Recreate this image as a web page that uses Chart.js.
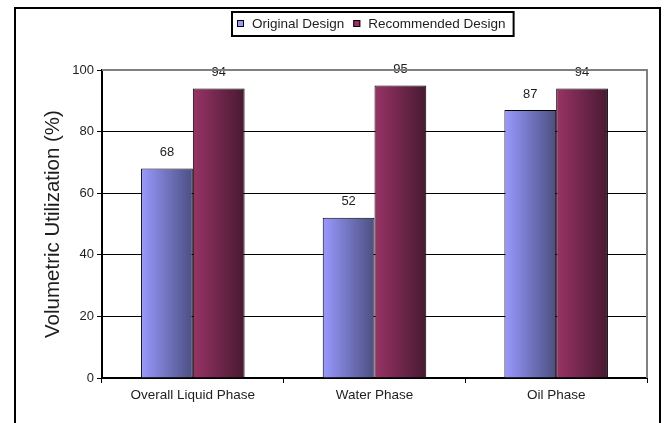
<!DOCTYPE html>
<html>
<head>
<meta charset="utf-8">
<script src="https://cdn.jsdelivr.net/npm/chart.js@4/dist/chart.umd.min.js"></script>
<style>
  html, body { margin: 0; padding: 0; background: #fff; }
  #wrap { width: 668px; height: 423px; position: relative; }
</style>
</head>
<body>
<div id="wrap"><canvas id="chart" width="668" height="423"></canvas></div>
<script>
// Volumetric utilization per phase, original vs recommended design
const categories = ['Overall Liquid Phase', 'Water Phase', 'Oil Phase'];
const seriesNames = ['Original Design', 'Recommended Design'];
const originalValues = [68, 52, 87];
const recommendedValues = [94, 95, 94];
const yTicks = [0, 20, 40, 60, 80, 100];

const FONT = '"Liberation Sans", Arial, sans-serif';
const TEXT = '#1e1e1e';

// light-to-dark horizontal shading for each series
const shades = [
  { light: '#9999ff', dark: '#4b4f80', flat: '#9999ff' },
  { light: '#993366', dark: '#471a31', flat: '#993366' }
];

// Shade every bar from left (light) to right (dark)
const barShading = {
  id: 'barShading',
  beforeDatasetsDraw(chart) {
    const ctx = chart.ctx;
    chart.data.datasets.forEach((ds, i) => {
      const meta = chart.getDatasetMeta(i);
      meta.data.forEach(el => {
        const x0 = el.x - el.width / 2, x1 = el.x + el.width / 2;
        const g = ctx.createLinearGradient(x0, 0, x1, 0);
        g.addColorStop(0, shades[i].light);
        g.addColorStop(1, shades[i].dark);
        el.options = Object.assign({}, el.options, { backgroundColor: g });
      });
    });
  }
};

// Value labels above bars, frame lines, legend box and outer border
const decorations = {
  id: 'decorations',
  afterDatasetsDraw(chart) {
    const ctx = chart.ctx;
    ctx.save();
    ctx.font = '13px ' + FONT;
    ctx.fillStyle = TEXT;
    ctx.textAlign = 'center';
    ctx.textBaseline = 'middle';
    chart.data.datasets.forEach((ds, i) => {
      chart.getDatasetMeta(i).data.forEach((el, j) => {
        ctx.fillText(String(ds.data[j]), el.x, el.y - 16);
      });
    });
    ctx.restore();
  },
  afterDraw(chart) {
    const ctx = chart.ctx;
    const a = chart.chartArea;
    ctx.save();
    // gray top and right edges of the plot frame
    ctx.strokeStyle = '#808080';
    ctx.lineWidth = 2;
    ctx.beginPath();
    ctx.moveTo(a.left, a.top);
    ctx.lineTo(a.right, a.top);
    ctx.lineTo(a.right, a.bottom);
    ctx.stroke();

    // legend
    ctx.font = '13.5px ' + FONT;
    const w = seriesNames.map(s => ctx.measureText(s).width);
    const marker = 7, gapText = 8, gapItem = 9, padL = 5, padR = 8;
    const total = padL + marker + gapText + w[0] + gapItem + marker + gapText + w[1] + padR;
    const cx = (a.left + a.right) / 2 - 2;
    const bx = Math.round(cx - total / 2), by = 12, bh = 24;
    ctx.strokeStyle = '#000';
    ctx.lineWidth = 2;
    ctx.strokeRect(bx, by, total, bh);
    let x = bx + padL;
    ctx.textBaseline = 'middle';
    ctx.textAlign = 'left';
    seriesNames.forEach((name, i) => {
      ctx.fillStyle = shades[i].flat;
      ctx.fillRect(x, by + 8, marker, marker);
      ctx.lineWidth = 1;
      ctx.strokeStyle = '#000';
      ctx.strokeRect(x + 0.5, by + 8.5, marker - 1, marker - 1);
      x += marker + gapText;
      ctx.fillStyle = TEXT;
      ctx.fillText(name, x, by + bh / 2 + 0.5);
      x += w[i] + gapItem;
    });

    // outer frame
    ctx.strokeStyle = '#000';
    ctx.lineWidth = 2;
    ctx.strokeRect(15, 8, 645, 440);
    ctx.restore();
  }
};

new Chart(document.getElementById('chart'), {
  type: 'bar',
  data: {
    labels: categories,
    datasets: [
      { label: seriesNames[0], data: originalValues, backgroundColor: shades[0].flat,
        borderColor: '#000', borderWidth: 1 },
      { label: seriesNames[1], data: recommendedValues, backgroundColor: shades[1].flat,
        borderColor: '#000', borderWidth: 1 }
    ]
  },
  options: {
    responsive: false,
    animation: false,
    events: [],
    layout: { padding: { left: 20, right: 21, top: 70, bottom: 0 } },
    datasets: { bar: { categoryPercentage: 0.57, barPercentage: 1 } },
    plugins: { legend: { display: false }, tooltip: { enabled: false } },
    scales: {
      x: {
        afterFit(scale) { scale.height = 45; },
        border: { color: '#000', width: 2 },
        grid: { offset: true, drawOnChartArea: false, drawTicks: true, tickLength: 5,
                tickColor: '#000', tickWidth: 1 },
        ticks: { font: { family: FONT, size: 13.5 }, color: TEXT, padding: 4, maxRotation: 0 }
      },
      y: {
        min: 0, max: 100,
        afterFit(scale) { scale.width = 82; },
        afterBuildTicks(scale) { scale.ticks = yTicks.map(v => ({ value: v })); },
        border: { color: '#000', width: 2 },
        grid: {
          color: c => (c.tick && c.tick.value === 100 ? '#808080' : '#000'),
          lineWidth: 1, tickLength: 5, tickColor: '#000'
        },
        ticks: { font: { family: FONT, size: 13 }, color: TEXT, padding: 3 },
        title: {
          display: true, text: 'Volumetric Utilization (%)',
          font: { family: FONT, size: 20.5 }, color: TEXT,
          padding: { top: 21, bottom: 0 }
        }
      }
    }
  },
  plugins: [barShading, decorations]
});
</script>
</body>
</html>
